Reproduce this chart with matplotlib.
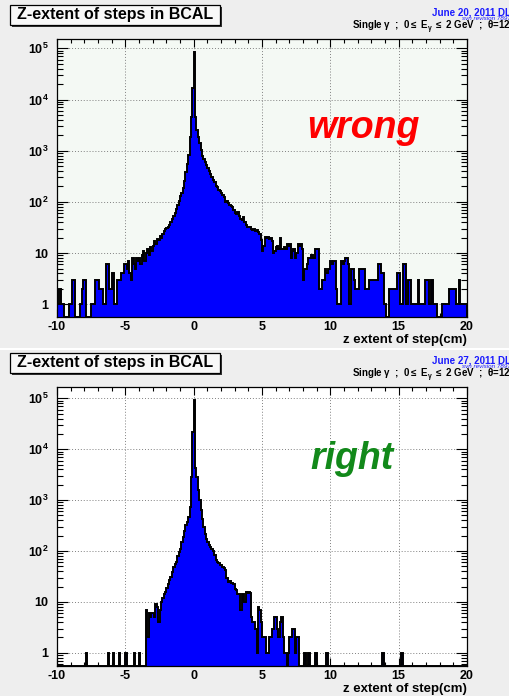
import numpy as np
import matplotlib.pyplot as plt
from matplotlib.patches import Rectangle

plt.rcParams['font.family'] = ['Liberation Sans', 'DejaVu Sans']
plt.rcParams['mathtext.fontset'] = 'custom'
plt.rcParams['mathtext.rm'] = 'Liberation Sans:bold'
plt.rcParams['mathtext.it'] = 'Liberation Sans:bold'
plt.rcParams['mathtext.bf'] = 'Liberation Sans:bold'

# binning of the z extent histogram (cm)
bin_lo, bin_hi, n_bins = -10, 20, 300

# counts per 0.1 cm bin, one row per cm
wrong_counts = [
    2, 1, 2, 1, 1, 0, 0, 0, 0, 1,            # -10 .. -9
    1, 3, 3, 0, 0, 0, 0, 1, 2, 3,            # -9 .. -8
    3, 0, 0, 0, 0, 1, 1, 1, 3, 3,            # -8 .. -7
    3, 2, 2, 2, 1, 1, 6, 6, 2, 2,            # -7 .. -6
    4, 4, 1, 1, 3, 3, 3, 4, 4, 6,            # -6 .. -5
    6, 5, 7, 4, 3, 8, 6, 5, 8, 7,            # -5 .. -4
    8, 6, 9, 11, 7, 10, 12, 9, 13, 11,       # -4 .. -3
    14, 17, 15, 19, 18, 22, 20, 24, 27, 29,  # -3 .. -2
    31, 33, 36, 40, 46, 52, 60, 72, 88, 105,  # -2 .. -1
    128, 150, 185, 260, 380, 560, 830, 1880, 4600, 16600,  # -1 .. 0
    85000, 4600, 2500, 1880, 1390, 1030, 800, 690, 610, 520,  # 0 .. 1
    450, 410, 345, 310, 265, 245, 205, 195, 172, 160,  # 1 .. 2
    152, 138, 126, 101, 104, 94, 86, 83, 79, 68,  # 2 .. 3
    62, 58, 64, 52, 47, 44, 50, 40, 36, 33,  # 3 .. 4
    33, 32, 30, 28, 29, 27, 28, 26, 24, 18,  # 4 .. 5
    11, 14, 21, 20, 21, 19, 20, 17, 10, 11,  # 5 .. 6
    13, 14, 12, 20, 12, 12, 13, 12, 15, 14,  # 6 .. 7
    15, 8, 11, 12, 8, 10, 15, 14, 15, 12,    # 7 .. 8
    3, 5, 5, 6, 8, 8, 9, 8, 8, 12,           # 8 .. 9
    12, 12, 2, 2, 3, 3, 5, 4, 5, 5,          # 9 .. 10
    7, 6, 7, 7, 2, 1, 1, 1, 7, 6,            # 10 .. 11
    7, 8, 8, 6, 1, 5, 5, 3, 2, 2,            # 11 .. 12
    2, 5, 5, 5, 5, 2, 2, 2, 3, 3,            # 12 .. 13
    3, 3, 3, 3, 3, 6, 6, 4, 4, 1,            # 13 .. 14
    1, 0, 0, 2, 2, 2, 2, 2, 2, 4,            # 14 .. 15
    4, 1, 1, 6, 6, 1, 1, 3, 3, 1,            # 15 .. 16
    1, 1, 1, 1, 3, 1, 1, 1, 1, 3,            # 16 .. 17
    3, 3, 1, 1, 3, 1, 1, 1, 0, 0,            # 17 .. 18
    0, 0, 1, 1, 1, 1, 1, 2, 2, 2,            # 18 .. 19
    2, 2, 1, 1, 3, 1, 1, 1, 1, 1,            # 19 .. 20
]

right_counts = [
    0, 0, 0, 0, 0, 0, 0, 0, 0, 0,            # -10 .. -9
    0, 0, 0, 0, 0, 0, 0, 0, 0, 0,            # -9 .. -8
    0, 1, 0, 0, 0, 0, 0, 0, 0, 0,            # -8 .. -7
    0, 0, 0, 0, 0, 0, 0, 1, 0, 0,            # -7 .. -6
    0, 1, 0, 0, 0, 1, 0, 0, 0, 0,            # -6 .. -5
    1, 0, 0, 0, 0, 0, 1, 0, 0, 0,            # -5 .. -4
    1, 0, 0, 0, 0, 7, 2, 6, 5, 6,            # -4 .. -3
    6, 5, 9, 8, 4, 7, 10, 12, 14, 16,        # -3 .. -2
    19, 22, 27, 31, 38, 49, 55, 62, 78, 95,  # -2 .. -1
    110, 150, 190, 250, 320, 380, 470, 740, 2870, 22000,  # -1 .. 0
    91000, 4200, 2870, 1580, 1000, 650, 420, 300, 220, 170,  # 0 .. 1
    150, 130, 118, 110, 100, 85, 68, 62, 58, 54,  # 1 .. 2
    53, 48, 46, 42, 30, 25, 26, 24, 23, 22,  # 2 .. 3
    18, 17, 14, 14, 7, 14, 14, 10, 16, 15,   # 3 .. 4
    16, 15, 5, 4, 4, 3, 1, 8, 7, 4,          # 4 .. 5
    2, 2, 2, 1, 1, 2, 2, 3, 3, 5,            # 5 .. 6
    5, 3, 2, 4, 5, 2, 1, 1, 0, 1,            # 6 .. 7
    2, 2, 3, 3, 1, 2, 2, 0, 0, 0,            # 7 .. 8
    0, 1, 0, 0, 1, 0, 0, 0, 0, 1,            # 8 .. 9
    0, 0, 0, 0, 0, 0, 0, 1, 0, 0,            # 9 .. 10
    0, 0, 0, 0, 0, 0, 0, 0, 0, 0,            # 10 .. 11
    0, 0, 0, 0, 0, 0, 0, 0, 0, 0,            # 11 .. 12
    0, 0, 0, 0, 0, 0, 0, 0, 0, 0,            # 12 .. 13
    0, 0, 0, 0, 0, 0, 0, 0, 1, 0,            # 13 .. 14
    0, 0, 0, 0, 0, 0, 0, 0, 0, 0,            # 14 .. 15
    0, 0, 1, 0, 0, 0, 0, 0, 0, 0,            # 15 .. 16
    0, 0, 0, 0, 0, 0, 0, 0, 0, 0,            # 16 .. 17
    0, 0, 0, 0, 0, 0, 0, 0, 0, 0,            # 17 .. 18
    0, 0, 0, 0, 0, 0, 0, 0, 0, 0,            # 18 .. 19
    0, 0, 0, 0, 0, 0, 0, 0, 0, 0,            # 19 .. 20
]

xticks = [-10, -5, 0, 5, 10, 15, 20]
xtick_labels = ['-10', '-5', '0', '5', '10', '15', '20']
yticks = [1, 10, 1e2, 1e3, 1e4, 1e5]
ytick_labels = ['1', '10', '$10^{2}$', '$10^{3}$', '$10^{4}$', '$10^{5}$']

title = 'Z-extent of steps in BCAL'
xlabel = 'z extent of step(cm)'
info = r'Single $\gamma$  ;  0$\leq$ E$_{\gamma}$ $\leq$ 2 GeV  ;  $\theta$=12$^{o}$'
dates = ['June 20, 2011 DL', 'June 27, 2011 DL']

W, H = 510, 696
BG = '#eeeeee'


def fx(x):
    return x / W


def fy(y):
    return 1 - y / H


def drawPanel(fig, y0, axTop, axBottom, counts, ylim, face, date, word, wordColor, wordX, wordY):
    ax = fig.add_axes([fx(57), fy(axBottom), (467 - 57) / W, (axBottom - axTop) / H])
    ax.set_facecolor(face)
    edges = np.linspace(bin_lo, bin_hi, n_bins + 1)
    vals = np.clip(np.array(counts, dtype=float), ylim[0], None)
    ax.stairs(vals, edges, baseline=ylim[0], fill=True, color='#0000ff', zorder=2)
    ax.stairs(vals, edges, baseline=ylim[0], color='black', lw=1.4, zorder=3)
    ax.set_yscale('log')
    ax.set_xlim(bin_lo, bin_hi)
    ax.set_ylim(*ylim)
    ax.set_axisbelow(True)
    ax.grid(True, which='major', color='#808080', ls=(0, (1, 2)), lw=0.7)

    ax.set_xticks(xticks, labels=xtick_labels, fontsize=9, fontweight='bold')
    ax.set_xticks(np.arange(bin_lo, bin_hi + 1, 1), minor=True)
    ax.set_yticks(yticks, labels=ytick_labels, fontsize=9, fontweight='bold')
    ax.tick_params(which='both', direction='in', top=True, right=True, width=0.8)
    ax.tick_params(axis='x', which='major', length=6, pad=3)
    ax.tick_params(axis='x', which='minor', length=3)
    ax.tick_params(axis='y', which='major', length=8, pad=6)
    ax.tick_params(axis='y', which='minor', length=4)
    ax.yaxis.set_minor_formatter(plt.NullFormatter())
    for s in ax.spines.values():
        s.set_linewidth(0.9)

    # title box with shadow
    fig.patches.append(Rectangle((fx(12), fy(y0 + 27)), 210 / W, 20 / H, transform=fig.transFigure,
                                 fc='#333333', ec='none', zorder=1))
    fig.patches.append(Rectangle((fx(10), fy(y0 + 25)), 210 / W, 20 / H, transform=fig.transFigure,
                                 fc='#f8f8f8', ec='black', lw=0.9, zorder=2))
    fig.text(fx(115), fy(y0 + 15), title, ha='center', va='center', fontsize=11.5, fontweight='bold')

    fig.text(fx(511), fy(y0 + 12.5), date, ha='right', va='center', fontsize=7,
             fontweight='bold', color='#1a1aff')
    fig.text(fx(511), fy(y0 + 19), 'svn revision 7897', ha='right', va='center', fontsize=4.5,
             style='italic', color='#1a1aff')
    fig.text(fx(515), fy(y0 + 26.5), info, ha='right', va='center', fontsize=7, fontweight='bold')

    fig.text(fx(467), fy(axBottom + 23), xlabel, ha='right', va='center', fontsize=9.5, fontweight='bold')
    fig.text(fx(wordX), fy(wordY), word, ha='center', va='baseline', fontsize=27,
             fontweight='bold', style='italic', color=wordColor)
    return ax


fig = plt.figure(figsize=(W / 100, H / 100), dpi=100, facecolor=BG)
drawPanel(fig, 0, 39, 317, wrong_counts, (0.565, 1.52e5), '#f4f9f4', dates[0], 'wrong', '#ff0000', 363, 138)
drawPanel(fig, 348, 387, 666, right_counts, (0.55, 1.67e5), 'white', dates[1], 'right', '#12891a', 352, 469)
fig.patches.append(Rectangle((0, fy(350)), 1, 2 / H, transform=fig.transFigure, fc='white', ec='none'))

fig.savefig('out.png', dpi=100, facecolor=BG)
